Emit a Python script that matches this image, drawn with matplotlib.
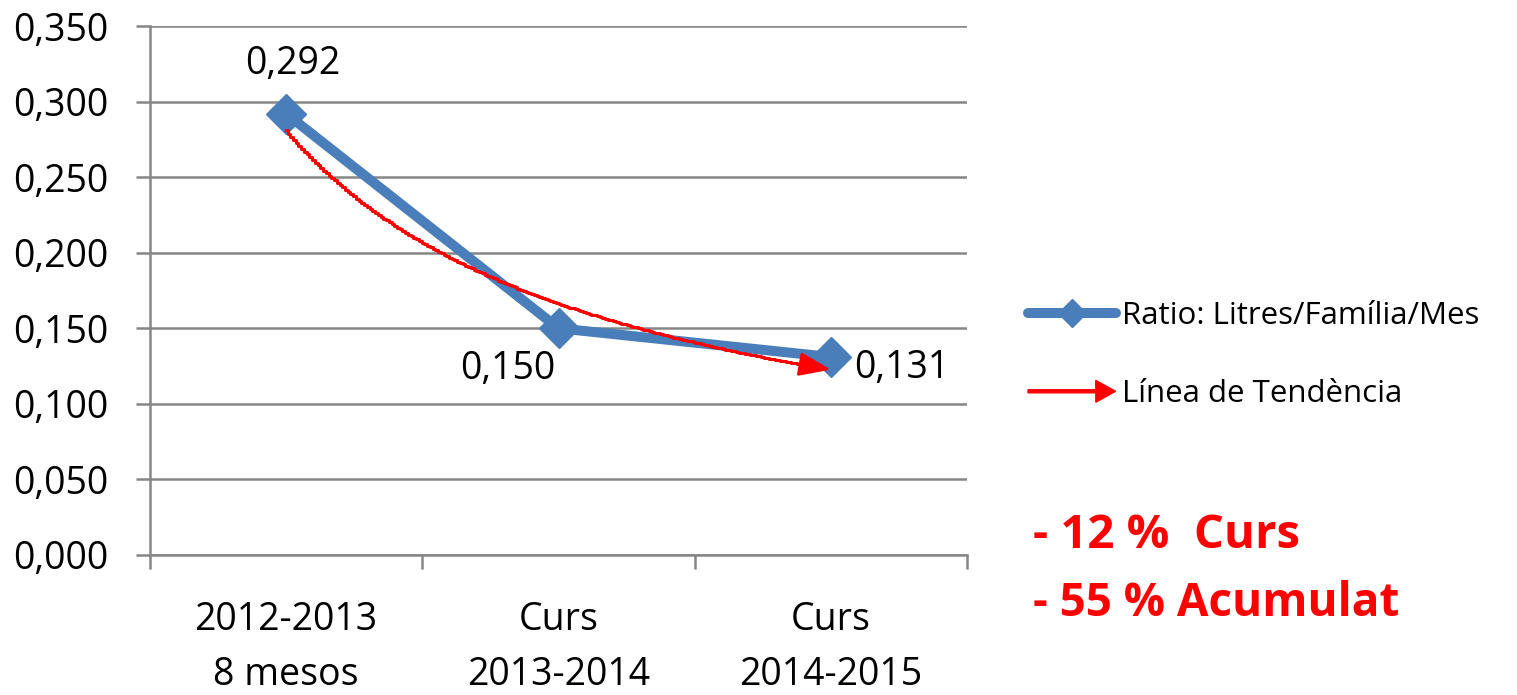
import numpy as np
import matplotlib
matplotlib.use("Agg")
import matplotlib.pyplot as plt
import matplotlib.patches as mpatches
from matplotlib.lines import Line2D
from matplotlib.legend_handler import HandlerPatch

# ── Data ──────────────────────────────────────────────────────────────────────

categories = ["2012-2013\n8 mesos", "Curs\n2013-2014", "Curs\n2014-2015"]
ratio = [0.292, 0.150, 0.131]
value_labels = ["0,292", "0,150", "0,131"]
yticks = [0.0, 0.05, 0.10, 0.15, 0.20, 0.25, 0.30, 0.35]

BLUE = "#4A7EBB"
RED = "#FF0000"
GRID = "#868686"

plt.rcParams["font.family"] = ["Open Sans", "DejaVu Sans"]

fig = plt.figure(figsize=(15.17, 6.95), dpi=100)
ax = fig.add_axes([150 / 1517, 1 - 555 / 695, 817 / 1517, 529 / 695])

x = np.arange(len(categories))

# power trendline (as Excel does) fitted on x = 1..n
xf = x + 1
b, a = np.polyfit(np.log(xf), np.log(ratio), 1)
xt = np.linspace(1, len(categories), 200)
yt = np.exp(a) * xt ** b

ax.plot(x, ratio, color=BLUE, lw=7.2, marker="D", markersize=20,
        solid_capstyle="butt", zorder=3)
ax.plot(xt[:-8] - 1, yt[:-8], color=RED, lw=2.2, zorder=4,
        drawstyle="steps-mid")
ax.annotate("", xy=(xt[-1] - 1, yt[-1]), xytext=(xt[-9] - 1, yt[-9]),
            arrowprops=dict(arrowstyle="-|>,head_length=0.4,head_width=0.15",
                            color=RED, lw=2.2, mutation_scale=48,
                            shrinkA=0, shrinkB=0), zorder=4)

# data labels
ax.annotate(value_labels[0], (x[0], ratio[0]), xytext=(5, 36),
            textcoords="offset points", ha="center", va="center", fontsize=27)
ax.annotate(value_labels[1], (x[1], ratio[1]), xytext=(-2, -29),
            textcoords="offset points", ha="right", va="center", fontsize=27)
ax.annotate(value_labels[2], (x[2], ratio[2]), xytext=(17, -8),
            textcoords="offset points", ha="left", va="center", fontsize=27)

ax.set_xlim(-0.5, len(categories) - 0.5)
ax.set_ylim(0, 0.35)
ax.set_yticks(yticks)
ax.set_yticklabels([f"{v:.3f}".replace(".", ",") for v in yticks])
ax.set_xticks(x)
ax.set_xticklabels(categories, linespacing=1.6)
ax.set_xticks(np.arange(-0.5, len(categories), 1.0), minor=True)

ax.grid(True, axis="y", color=GRID, lw=1.8)
ax.set_axisbelow(True)
for s in ["top", "right"]:
    ax.spines[s].set_visible(False)
for s in ["left", "bottom"]:
    ax.spines[s].set_color(GRID)
    ax.spines[s].set_linewidth(1.8)

ax.tick_params(axis="y", length=10, width=1.8, color=GRID, pad=20,
               labelsize=27)
ax.tick_params(axis="x", which="major", length=0, pad=33, labelsize=27)
ax.tick_params(axis="x", which="minor", length=10, width=1.8, color=GRID)


# legend
class HandlerArrow(HandlerPatch):
    def create_artists(self, legend, orig_handle, xdescent, ydescent,
                       width, height, fontsize, trans):
        p = mpatches.FancyArrow(0, height / 2, width, 0, width=2.2,
                                head_width=height * 1.0,
                                head_length=height * 0.9,
                                length_includes_head=True, color=RED)
        self.update_prop(p, orig_handle, legend)
        p.set_transform(trans)
        return [p]


h_ratio = Line2D([], [], color=BLUE, lw=7.2, marker="D", markersize=14,
                 solid_capstyle="round")
h_trend = mpatches.FancyArrow(0, 0, 1, 0, color=RED)
fig.legend([h_ratio, h_trend],
           ["Ratio: Litres/Família/Mes", "Línea de Tendència"],
           handler_map={mpatches.FancyArrow: HandlerArrow()},
           loc="center left", bbox_to_anchor=(1028 / 1517, 1 - 355 / 695),
           frameon=False, fontsize=22.5, handlelength=2.8, handletextpad=0.22,
           labelspacing=1.55, borderpad=0, borderaxespad=0)

fig.text(1033 / 1517, 1 - 535 / 695, "- 12 %  Curs", color=RED,
         fontsize=34, fontweight="bold", va="center", ha="left")
fig.text(1033 / 1517, 1 - 604 / 695, "- 55 % Acumulat", color=RED,
         fontsize=33, fontweight="bold", va="center", ha="left")

fig.savefig("out.png", dpi=100)
